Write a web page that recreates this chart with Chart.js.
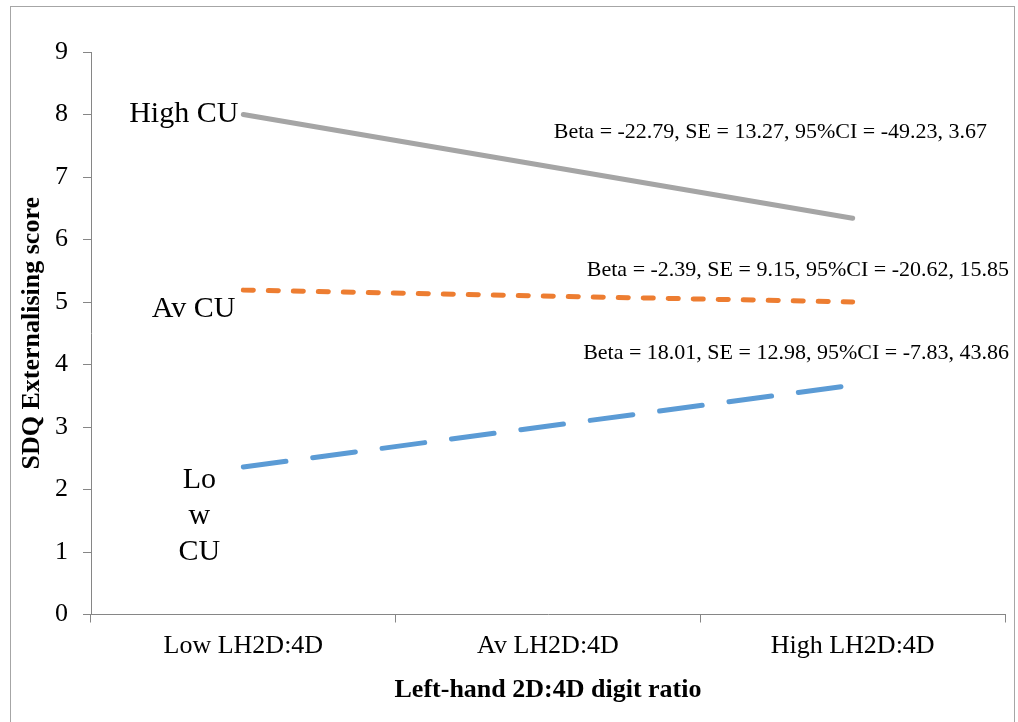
<!DOCTYPE html>
<html>
<head>
<meta charset="utf-8">
<script src="https://cdn.jsdelivr.net/npm/chart.js@4/dist/chart.umd.min.js"></script>
<style>
  html, body { margin: 0; padding: 0; background: #fff; overflow: hidden; }
  #frame { position: absolute; left: 10px; top: 6px; width: 1003px; height: 800px; border: 1px solid #a6a6a6; }
  #wrap { position: absolute; left: 0; top: 0; width: 1018px; height: 722px; }
</style>
</head>
<body>
<div id="frame"></div>
<div id="wrap"><canvas id="c"></canvas></div>
<script>
// ---- data ----
const categories = ['Low LH2D:4D', 'Av LH2D:4D', 'High LH2D:4D'];
const seriesNames = ['High CU', 'Av CU', 'Low CU'];
const highCU = [8.00, null, 6.34];
const avCU   = [5.19, null, 5.00];
const lowCU  = [2.36, null, 3.67];
const seriesLabelLines = [['High CU'], ['Av CU'], ['Lo', 'w', 'CU']];
const statTexts = [
  'Beta = -22.79, SE = 13.27, 95%CI = -49.23, 3.67',
  'Beta = -2.39, SE = 9.15, 95%CI = -20.62, 15.85',
  'Beta = 18.01, SE = 12.98, 95%CI = -7.83, 43.86'
];
const yTicks = [0,1,2,3,4,5,6,7,8,9];

// ---- styling / placement (not data) ----
const FONT = "'Liberation Serif', 'Times New Roman', serif";
const labelPlacement = [
  { dx: -5, dy: 0, align: 'right', lineGap: 36 },
  { dx: -8, dy: 19, align: 'right', lineGap: 36 },
  { dx: -44, dy: 13, align: 'center', lineGap: 36 }
];
const statPlacement = [
  { right: 987, y: 132 },
  { right: 1009, y: 270 },
  { right: 1009, y: 353 }
];

const labelsPlugin = {
  id: 'seriesLabels',
  afterDatasetsDraw(chart) {
    const ctx = chart.ctx;
    ctx.save();
    ctx.fillStyle = '#000';
    ctx.textBaseline = 'middle';
    ctx.font = '30px ' + FONT;
    chart.data.datasets.forEach((ds, i) => {
      const meta = chart.getDatasetMeta(i);
      const pt = meta.data[0];
      const p = labelPlacement[i];
      ctx.textAlign = p.align;
      seriesLabelLines[i].forEach((line, k) => {
        ctx.fillText(line, pt.x + p.dx, pt.y + p.dy + k * p.lineGap);
      });
    });
    ctx.font = '22px ' + FONT;
    ctx.textAlign = 'right';
    statTexts.forEach((t, i) => {
      ctx.fillText(t, statPlacement[i].right, statPlacement[i].y);
    });
    ctx.restore();
  }
};

new Chart(document.getElementById('c'), {
  type: 'line',
  data: {
    labels: categories,
    datasets: [
      { label: seriesNames[0], data: highCU, borderColor: '#a5a5a5', borderWidth: 5, borderCapStyle: 'round', spanGaps: true, pointRadius: 0, tension: 0 },
      { label: seriesNames[1], data: avCU, borderColor: '#ed7d31', borderWidth: 5, borderCapStyle: 'round', borderDash: [10, 15], spanGaps: true, pointRadius: 0, tension: 0 },
      { label: seriesNames[2], data: lowCU, borderColor: '#5b9bd5', borderWidth: 5, borderCapStyle: 'round', borderDash: [43, 27], spanGaps: true, pointRadius: 0, tension: 0 }
    ]
  },
  options: {
    responsive: true,
    maintainAspectRatio: false,
    animation: false,
    layout: { padding: { top: 52, right: 13, left: 0, bottom: 0 } },
    plugins: { legend: { display: false }, tooltip: { enabled: false } },
    scales: {
      x: {
        type: 'category',
        offset: true,
        grid: { offset: true, drawOnChartArea: false, drawTicks: true, tickLength: 8, color: '#868686' },
        border: { color: '#868686', width: 1 },
        ticks: { font: { family: FONT, size: 26 }, color: '#000', padding: 8, maxRotation: 0 },
        title: { display: true, text: 'Left-hand 2D:4D digit ratio', font: { family: FONT, size: 26, weight: 'bold' }, color: '#000', padding: 16 },
        afterFit(s) { s.height = 107.5; }
      },
      y: {
        min: 0, max: 9,
        afterBuildTicks(s) { s.ticks = yTicks.map(v => ({ value: v })); },
        grid: { drawOnChartArea: false, drawTicks: true, tickLength: 8, color: '#868686' },
        border: { color: '#868686', width: 1 },
        ticks: { font: { family: FONT, size: 26 }, color: '#000', padding: 15 },
        title: { display: true, text: 'SDQ Externalising score', font: { family: FONT, size: 26, weight: 'bold' }, color: '#000', padding: 17 },
        afterFit(s) { s.width = 91; }
      }
    }
  },
  plugins: [labelsPlugin]
});
</script>
</body>
</html>
